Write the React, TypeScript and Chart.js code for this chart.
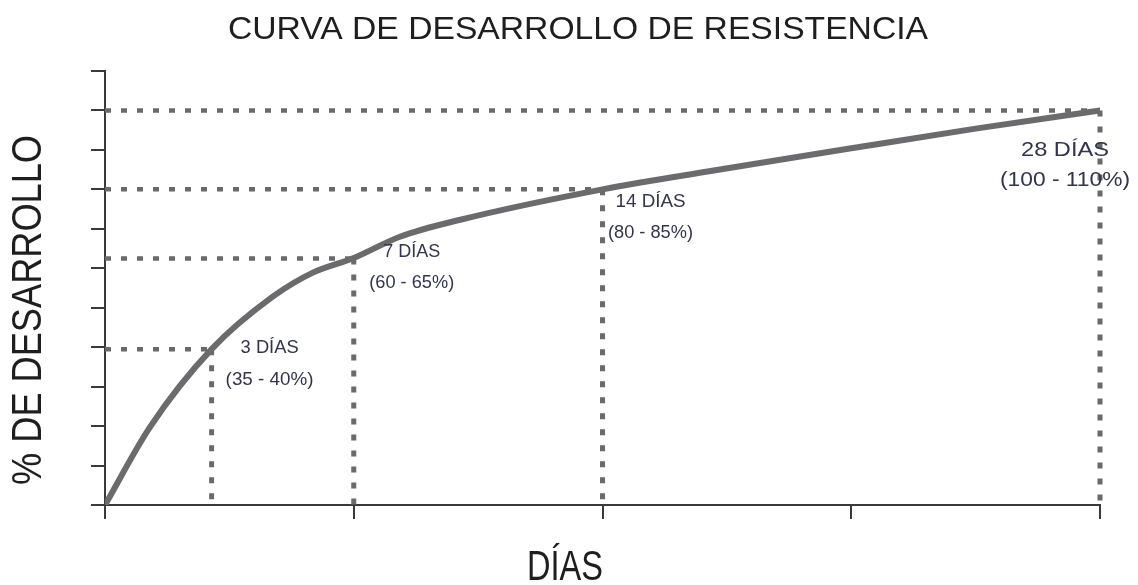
import { useEffect, useRef } from "react";
import { Chart, registerables } from "chart.js";

Chart.register(...registerables);

// ---- data ----
const curveDays = [0, 1.27, 3, 4.72, 5.85, 7, 8.3, 10, 14, 17, 21, 24.5, 28];
const curvePercent = [0, 19.8, 39.5, 52.8, 58.9, 62.6, 68, 72.3, 80, 84.6, 90.4, 95.4, 100];
const milestoneDays = [3, 7, 14, 28];
const milestoneValues = [39.5, 62.5, 80, 100];
const milestoneLabels = ["3 DÍAS", "7 DÍAS", "14 DÍAS", "28 DÍAS"];
const milestoneRanges = ["(35 - 40%)", "(60 - 65%)", "(80 - 85%)", "(100 - 110%)"];
const xMin = 0;
const xMax = 28;
const xStep = 7;
const yMin = 0;
const yMax = 110;
const yStep = 10;
const titleText = "CURVA DE DESARROLLO DE RESISTENCIA";
const yTitleText = "% DE DESARROLLO";
const xTitleText = "DÍAS";

// ---- styles (label offsets relative to each milestone point) ----
const labelOffsets = [
  { dx: 58, dy1: -1, dy2: 31, size: 18, w1: 58, w2: 88 },
  { dx: 58, dy1: -6, dy2: 25, size: 18, w1: 57, w2: 85 },
  { dx: 48, dy1: 13, dy2: 44, size: 18, w1: 70, w2: 85 },
  { dx: -35, dy1: 40, dy2: 70, size: 21, w1: 88, w2: 130 },
];

function drawFitted(
  ctx: CanvasRenderingContext2D,
  text: string,
  cx: number,
  cy: number,
  font: string,
  targetWidth: number,
  color: string,
  rotate = 0
) {
  ctx.save();
  ctx.font = font;
  ctx.fillStyle = color;
  ctx.textAlign = "center";
  ctx.textBaseline = "middle";
  const w = ctx.measureText(text).width;
  const sx = targetWidth / w;
  ctx.translate(cx, cy);
  if (rotate) ctx.rotate(rotate);
  ctx.scale(sx, 1);
  ctx.fillText(text, 0, 0);
  ctx.restore();
}

const overlayPlugin = {
  id: "overlay",
  beforeDatasetsDraw(chart: any) {
    const { ctx, chartArea, scales } = chart;
    const x = scales.x;
    const y = scales.y;
    ctx.save();
    ctx.strokeStyle = "#6a6a6c";
    ctx.setLineDash([6, 10]);
    milestoneDays.forEach((d, i) => {
      const px = x.getPixelForValue(d);
      const py = y.getPixelForValue(milestoneValues[i]);
      ctx.lineWidth = 4.5;
      ctx.beginPath();
      ctx.moveTo(chartArea.left, py);
      ctx.lineTo(px, py);
      ctx.stroke();
      ctx.lineWidth = 5;
      ctx.beginPath();
      ctx.moveTo(px, py);
      ctx.lineTo(px, chartArea.bottom);
      ctx.stroke();
    });
    ctx.restore();
  },
  afterDraw(chart: any) {
    const { ctx, scales } = chart;
    const x = scales.x;
    const y = scales.y;
    milestoneDays.forEach((d, i) => {
      const px = x.getPixelForValue(d);
      const py = y.getPixelForValue(milestoneValues[i]);
      const o = labelOffsets[i];
      const font = `${o.size}px "Liberation Sans", Arial, sans-serif`;
      drawFitted(ctx, milestoneLabels[i], px + o.dx, py + o.dy1, font, o.w1, "#34344e");
      drawFitted(ctx, milestoneRanges[i], px + o.dx, py + o.dy2, font, o.w2, "#34344e");
    });
    drawFitted(ctx, titleText, 578, 30, '31px "Liberation Sans", Arial, sans-serif', 700, "#1e1e1e");
    drawFitted(ctx, yTitleText, 29, 310, '42px "Liberation Sans", Arial, sans-serif', 350, "#1e1e1e", -Math.PI / 2);
    drawFitted(ctx, xTitleText, 565, 568, '42px "Liberation Sans", Arial, sans-serif', 76, "#1e1e1e");
  },
};

export default function App() {
  const canvasRef = useRef<HTMLCanvasElement | null>(null);

  useEffect(() => {
    if (!canvasRef.current) return;
    const chart = new Chart(canvasRef.current, {
      type: "line",
      data: {
        datasets: [
          {
            data: curveDays.map((d, i) => ({ x: d, y: curvePercent[i] })),
            borderColor: "#6b6b6d",
            borderWidth: 6,
            pointRadius: 0,
            tension: 0.3,
            cubicInterpolationMode: "monotone",
            borderCapStyle: "round",
            borderJoinStyle: "round",
            fill: false,
          },
        ],
      },
      options: {
        responsive: false,
        animation: false,
        devicePixelRatio: 1,
        layout: { padding: { left: 91, right: 38, top: 71, bottom: 66 } },
        plugins: {
          legend: { display: false },
          title: { display: false },
          tooltip: { enabled: false },
        },
        scales: {
          x: {
            type: "linear",
            min: xMin,
            max: xMax,
            ticks: { display: false, stepSize: xStep },
            grid: {
              display: true,
              drawOnChartArea: false,
              drawTicks: true,
              tickLength: 14,
              color: "#3a3a3a",
              lineWidth: 2,
            },
            border: { display: true, color: "#3a3a3a", width: 2 },
          },
          y: {
            type: "linear",
            min: yMin,
            max: yMax,
            ticks: { display: false, stepSize: yStep },
            grid: {
              display: true,
              drawOnChartArea: false,
              drawTicks: true,
              tickLength: 14,
              color: "#3a3a3a",
              lineWidth: 2,
            },
            border: { display: true, color: "#3a3a3a", width: 2 },
          },
        },
      },
      plugins: [overlayPlugin],
    });
    return () => chart.destroy();
  }, []);

  return (
    <div style={{ position: "absolute", left: 0, top: 0, width: 1138, height: 585, background: "#fff" }}>
      <canvas ref={canvasRef} width={1138} height={585} />
    </div>
  );
}
